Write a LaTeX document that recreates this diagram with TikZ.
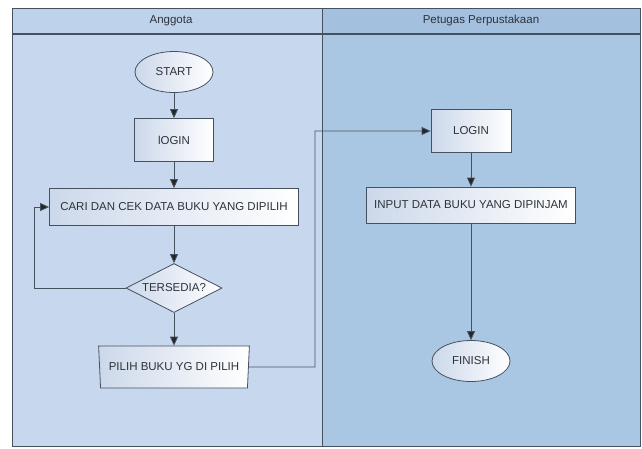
\documentclass[tikz,border=0pt]{standalone}
\usepackage{fontspec}
\setmainfont{Liberation Sans}
\usetikzlibrary{shapes.geometric, arrows.meta, positioning}

\definecolor{laneA}{HTML}{C7D8EE}
\definecolor{laneB}{HTML}{A9C7E3}
\definecolor{headA}{HTML}{BFD2EB}
\definecolor{headB}{HTML}{A3C1DF}
\definecolor{edgegray}{HTML}{46515F}
\definecolor{boxfill}{HTML}{CCD8EA}
\definecolor{txtgray}{HTML}{2E333A}

\tikzset{
  flowtext/.style={font=\fontsize{11.5}{13}\selectfont, text=txtgray},
  proc/.style={flowtext, draw=edgegray, thick, left color=boxfill, right color=white, inner sep=0pt},
  term/.style={proc, ellipse, minimum width=78pt, minimum height=41pt},
  ask/.style={proc, diamond, aspect=2, minimum width=96pt, minimum height=49pt},
  manual/.style={proc, trapezium, trapezium stretches=true, shape border rotate=180,
    trapezium angle=78, minimum width=151pt, minimum height=42pt},
  flow/.style={draw=edgegray, thick, ->}
}

\begin{document}
\begin{tikzpicture}[x=1pt,y=-1pt,>={Triangle[width=8pt,length=9pt,fill=black!85]},node distance=68pt]
    \useasboundingbox (0,0) rectangle (642,448);
    % swimlanes
    \fill[laneA] (12,34) rectangle (322,446);
    \fill[laneB] (322,34) rectangle (640,446);
    \fill[headA] (12,8) rectangle (322,34);
    \fill[headB] (322,8) rectangle (640,34);
    \draw[edgegray, thick] (12,8) rectangle (640,446);
    \draw[edgegray, very thick] (12,34) -- (640,34);
    \draw[edgegray, thick] (322,8) -- (322,446);
    \node[flowtext] (laneanggota) at (171,21) {Anggota};
    \node[flowtext] (lanepetugas) at (481,21) {Petugas Perpustakaan};

    % Anggota
    \node[term] (start) at (174,72) {START};
    \node[proc, minimum width=79pt, minimum height=43pt] (login) [below of=start] {lOGIN};
    \node[proc, minimum width=249pt, minimum height=37pt] (cari) [below of=login, node distance=67pt] {CARI DAN CEK DATA BUKU YANG DIPILIH};
    \node[ask] (tersedia) [below of=cari, node distance=81pt] {TERSEDIA?};
    \node[manual] (pilih) [below of=tersedia, node distance=79pt] {PILIH BUKU YG DI PILIH};

    % Petugas Perpustakaan
    \node[proc, minimum width=80pt, minimum height=43pt] (loginpetugas) at (471,131) {LOGIN};
    \node[proc, minimum width=209pt, minimum height=36pt] (input) [below of=loginpetugas, node distance=74pt] {INPUT DATA BUKU YANG DIPINJAM};
    \node[term] (finish) [below of=input, node distance=156pt] {FINISH};

    \coordinate (ulang) at (34,288);
    \coordinate (serah) at (315,367);

    \path[flow]
    (start) edge (login)
    (login) edge (cari)
    (cari) edge (tersedia)
    (tersedia) edge (pilih)
    (loginpetugas) edge (input)
    (input) edge (finish)
    ;
    \draw[flow] (tersedia.west) -- (ulang) |- (cari.west);
    \draw[flow] (pilih.east) -- (serah) |- (loginpetugas.west);
\end{tikzpicture}
\end{document}
